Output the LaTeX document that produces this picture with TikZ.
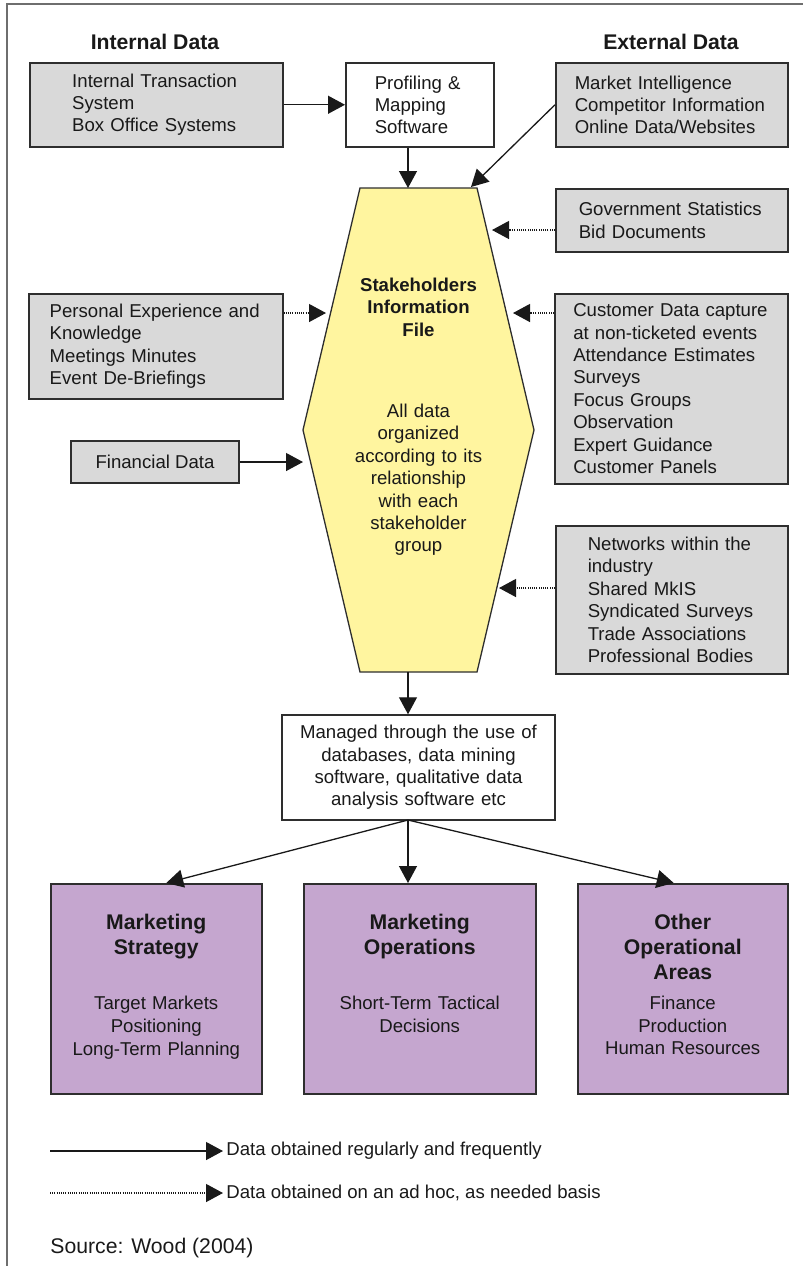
\documentclass[tikz,border=0pt]{standalone}
\usepackage{fontspec}
\setmainfont{Liberation Sans}
\usetikzlibrary{arrows.meta}
\definecolor{boxgrey}{HTML}{D9D9D9}
\definecolor{hexyellow}{HTML}{FFF59F}
\definecolor{areapurple}{HTML}{C5A6CF}
\definecolor{edgegrey}{HTML}{2E2E2E}
\definecolor{framegrey}{HTML}{6E6E6E}

\begin{document}
\begin{tikzpicture}[x=0.5pt, y=-0.5pt]

      \tikzset{txt/.style={font=\fontsize{9.3}{11.2}\selectfont, text=black!90},
               heading/.style={font=\bfseries\fontsize{10.6}{12.5}\selectfont, text=black!90},
               databox/.style={draw=edgegrey, line width=0.75pt, fill=boxgrey, txt, align=left, inner ysep=0pt, anchor=north west, minimum height=42pt},
               whitebox/.style={databox, fill=white},
               areabox/.style={draw=edgegrey, line width=0.75pt, fill=areapurple, txt, align=center, inner ysep=0pt, anchor=north west, text height=23pt, text depth=82pt},
               solidflow/.style={->, >={Triangle[length=8.5pt, width=9pt]}, line width=0.65pt, black!90},
               adhocflow/.style={solidflow, dash pattern=on 0.5pt off 0.6pt}}
      \useasboundingbox (0,0) rectangle (803,1266);
      \draw[framegrey, line width=0.75pt] (7,1266) -- (7,4) -- (803,4);
%% Hexagon
      \coordinate (hnw) at (360,188); \coordinate (hne) at (477,188);
      \coordinate (he) at (534,430);  \coordinate (hse) at (477,672);
      \coordinate (hsw) at (360,672); \coordinate (hw) at (303,430);
      \draw[edgegrey, line width=0.65pt, fill=hexyellow] (hnw) -- (hne) -- (he) -- (hse) -- (hsw) -- (hw) -- cycle;
      \node[txt, align=center, text width=80pt, anchor=base] (sif) at (418.5,291.5) {\textbf{Stakeholders}\\ \textbf{Information}\\ \textbf{File}\\[29.4pt] All data\\ organized\\ according to its\\ relationship\\ with each\\ stakeholder\\ group};
%% Sources
      \node[heading] (intdata) at (155,42) {Internal Data};
      \node[heading] (extdata) at (671,42) {External Data};
      \node[databox, text width=84pt, inner xsep=21.25pt] (internal) at (29,62) {Internal Transaction\\ System\\ Box Office Systems};
      \node[whitebox, text width=45pt, inner xsep=14.5pt] (profiling) at (345,62) {Profiling \&\\ Mapping\\ Software};
      \node[databox, text width=97pt, inner xsep=9.5pt] (market) at (555,62) {Market Intelligence\\ Competitor Information\\ Online Data/Websites};
      \node[databox, text width=93pt, inner xsep=11.5pt, minimum height=31.5pt] (government) at (555,188) {Government Statistics\\ Bid Documents};
      \node[databox, text width=106pt, inner xsep=10.5pt, minimum height=52.5pt] (personal) at (28,293) {Personal Experience and\\ Knowledge\\ Meetings Minutes\\ Event De-Briefings};
      \node[databox, align=center, anchor=center, minimum width=84pt, minimum height=21pt] (financial) at (155,462) {Financial Data};
      \node[databox, text width=98pt, inner xsep=9.25pt, minimum height=95pt] (customer) at (554,293) {Customer Data capture\\ at non-ticketed events\\ Attendance Estimates\\ Surveys\\ Focus Groups\\ Observation\\ Expert Guidance\\ Customer Panels};
      \node[databox, text width=84pt, inner xsep=16pt, minimum height=74pt] (networks) at (555,525) {Networks within the\\ industry\\ Shared MkIS\\ Syndicated Surveys\\ Trade Associations\\ Professional Bodies};
%% Management and use
      \node[whitebox, align=center, anchor=center, text width=124pt, inner xsep=6.25pt, minimum height=52.5pt] (managed) at (418.5,767.5) {Managed through the use of\\ databases, data mining\\ software, qualitative data\\ analysis software etc};
      \node[areabox, text width=100pt, inner xsep=2.75pt] (strategy) at (50,883) {\bfseries\fontsize{10.6}{12.5}\selectfont Marketing\\ Strategy\\[16pt]\mdseries\fontsize{9.3}{11.5}\selectfont Target Markets\\ Positioning\\ Long-Term Planning};
      \node[areabox, text width=110pt, inner xsep=3pt] (operations) at (303,883) {\bfseries\fontsize{10.6}{12.5}\selectfont Marketing\\ Operations\\[16pt]\mdseries\fontsize{9.3}{11.5}\selectfont Short-Term Tactical\\ Decisions};
      \node[areabox, text width=100pt, inner xsep=2.5pt] (otherareas) at (577,883) {\bfseries\fontsize{10.6}{12.5}\selectfont Other\\ Operational\\ Areas\\[3.4pt]\mdseries\fontsize{9.3}{11.5}\selectfont Finance\\ Production\\ Human Resources};
%% Key
      \node[txt, anchor=west, inner sep=1.5pt] (regularkey) at (223,1151) {Data obtained regularly and frequently};
      \node[txt, anchor=west, inner sep=1.5pt] (adhockey) at (223,1193) {Data obtained on an ad hoc, as needed basis};
      \node[txt, font=\fontsize{10.6}{12.5}\selectfont, anchor=west, inner sep=0pt] (citation) at (50,1248) {Source: Wood (2004)};
%Edges
      \coordinate (proftip) at (408,188);
      \coordinate (mkttip) at (471,187);
      \coordinate (govtip) at (492,230);
      \coordinate (perstip) at (326,313);
      \coordinate (custtip) at (513,313);
      \coordinate (fintip) at (303,462);
      \coordinate (nettip) at (499,588);
      \coordinate (hexfoot) at (408,672);
      \coordinate (mngfoot) at (408,820);
      \coordinate (regularfrom) at (50,1151);
      \coordinate (adhocfrom) at (50,1193);
      \path[solidflow] (internal) edge (profiling);
      \path[solidflow] (profiling.south -| proftip) edge (proftip);
      \path[solidflow] (market.west) edge (mkttip);
      \path[adhocflow] (government.west |- govtip) edge (govtip);
      \path[adhocflow] (personal.east |- perstip) edge (perstip);
      \path[adhocflow] (customer.west |- custtip) edge (custtip);
      \path[solidflow] (financial) edge (fintip);
      \path[adhocflow] (networks.west |- nettip) edge (nettip);
      \path[solidflow] (hexfoot) edge (managed.north -| hexfoot);
      \path[solidflow] (mngfoot) edge ([xshift=5pt]strategy.north);
      \path[solidflow] (mngfoot) edge (operations.north -| mngfoot);
      \path[solidflow] (mngfoot) edge ([xshift=-4.5pt]otherareas.north);
      \path[solidflow] (regularfrom) edge (regularkey);
      \path[adhocflow] (adhocfrom) edge (adhockey);

\end{tikzpicture}
\end{document}
